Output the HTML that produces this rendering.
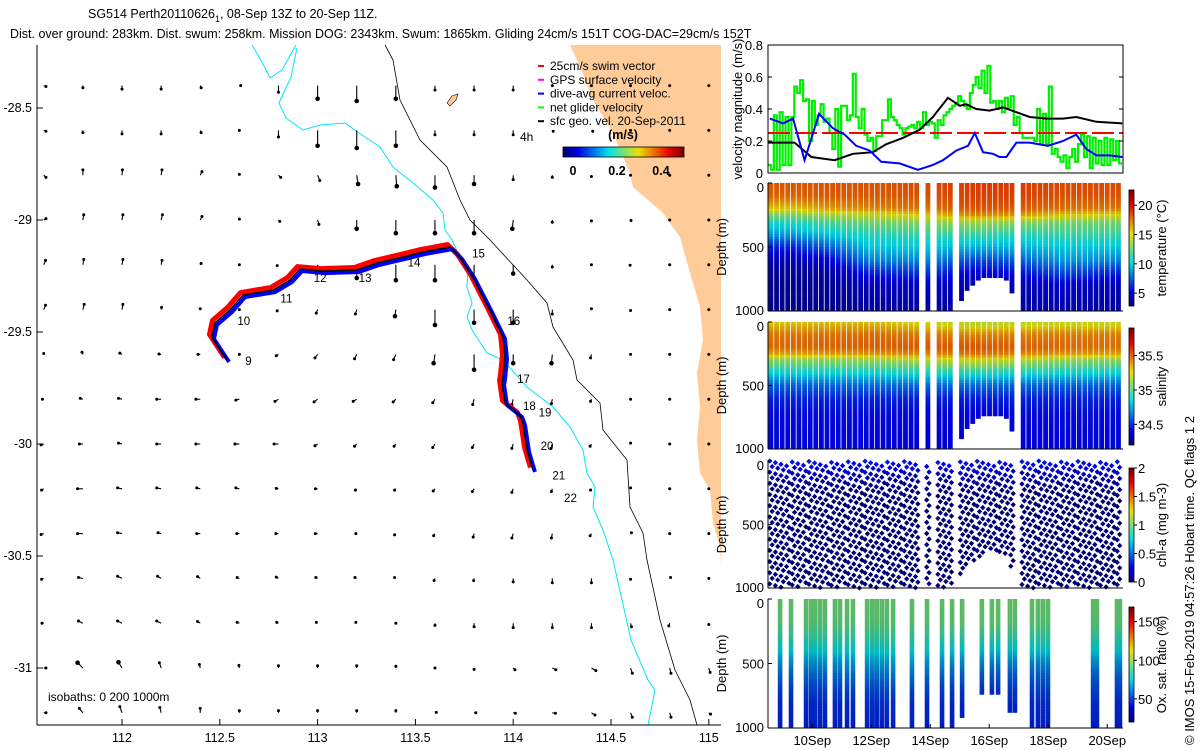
<!DOCTYPE html>
<html><head><meta charset="utf-8"><style>
html,body{margin:0;padding:0;background:#fff;}
svg{display:block;font-family:"Liberation Sans",sans-serif;}
</style></head><body>
<svg id="fig" width="1200" height="750" viewBox="0 0 1200 750" xmlns="http://www.w3.org/2000/svg">
<g font-size="12.5">
<text x="88" y="18">SG514 Perth20110626<tspan font-size="9" dy="4">1</tspan><tspan dy="-4">, 08-Sep 13Z to 20-Sep 11Z.</tspan></text>
<text x="10" y="38">Dist. over ground: 283km. Dist. swum: 258km. Mission DOG: 2343km. Swum: 1865km. Gliding 24cm/s 151T COG-DAC=29cm/s 152T</text>
</g>
<g id="map"></g>
<g id="right"></g>
</svg>
<script>
// ---------- data ----------
const trackLon=[112.537,112.460,112.475,112.552,112.619,112.772,112.859,112.910,113.028,113.201,113.304,113.437,113.539,113.677,113.728,113.794,113.881,113.948,113.958,113.948,113.943,113.958,114.035,114.050,114.071,114.101];
const trackLat=[-29.625,-29.522,-29.460,-29.402,-29.335,-29.313,-29.268,-29.219,-29.228,-29.223,-29.192,-29.165,-29.143,-29.121,-29.165,-29.254,-29.402,-29.522,-29.612,-29.701,-29.728,-29.817,-29.871,-29.906,-30.027,-30.116];
const dayLabels=['9','10','11','12','13','14','15','16','17','18','19','20','21','22'];
const dayLabelLon=[112.63,112.59,112.81,112.98,113.21,113.46,113.79,113.97,114.02,114.05,114.13,114.14,114.20,114.26];
const dayLabelLat=[-29.63,-29.45,-29.35,-29.26,-29.26,-29.19,-29.15,-29.45,-29.71,-29.83,-29.86,-30.01,-30.14,-30.24];
const gridLon=[111.6,111.8,112.0,112.2,112.4,112.6,112.8,113.0,113.2,113.4,113.6,113.8,114.0,114.2,114.4,114.6,114.8,115.0];
const gridLat=[-28.4,-28.6,-28.8,-29.0,-29.2,-29.4,-29.6,-29.8,-30.0,-30.2,-30.4,-30.6,-30.8,-31.0,-31.2];
const U=[
[.05,0,0,0,.02,.03,0,0,0,0,0,0,0,0,0,0,0,0],
[.05,0,0,0,.02,0,0,0,0,0,0,0,0,.02,.03,0,0,0],
[.05,0,.01,.02,.04,0,.05,.05,.03,.02,0,0,0,0,0,0,0,0],
[.05,.02,.02,.03,.04,0,.03,.03,0,0,0,0,-.02,0,0,.01,0,0],
[.04,.02,.02,.02,.02,0,-.03,0,0,0,0,0,0,0,0,-.01,0,0],
[.04,.03,.02,.01,0,0,-.03,-.03,-.03,-.02,0,0,0,0,0,0,0,0],
[0,-.02,-.05,-.05,-.05,0,-.05,-.06,-.05,-.05,-.03,0,0,-.02,-.02,0,0,0],
[-.03,-.06,-.08,-.1,-.1,-.08,-.08,-.08,-.08,-.06,-.05,-.03,-.03,-.02,-.02,0,0,0],
[-.06,-.08,-.08,-.1,-.1,-.1,-.1,-.06,-.05,-.04,-.05,-.04,-.03,-.03,-.03,0,0,0],
[-.05,-.12,-.1,-.1,-.08,-.08,-.05,-.05,-.03,-.03,-.04,-.04,-.03,-.02,-.02,0,0,0],
[-.06,-.12,-.1,-.07,-.08,-.06,-.06,-.05,-.02,-.03,-.03,-.02,-.03,-.02,-.03,.02,0,0],
[-.05,-.1,-.1,-.08,-.06,-.05,-.05,-.04,-.04,-.03,-.02,-.01,0,0,0,0,.02,0],
[-.04,-.1,-.1,-.1,-.06,-.05,-.04,-.03,-.02,0,0,0,0,0,0,.02,-.02,0],
[.05,-.12,-.08,-.04,-.02,-.01,0,0,0,0,0,0,.04,.08,.1,.04,.03,.03],
[.05,-.08,-.05,-.03,0,0,0,0,0,0,.03,.04,.05,.07,.08,.04,.03,.04]];
const V=[
[-.02,-.05,-.08,-.08,-.05,0,-.15,-.3,-.35,-.3,-.1,-.1,-.1,0,0,0,0,0],
[-.02,-.05,-.08,-.08,-.05,0,-.15,-.35,-.4,-.35,-.1,-.1,-.1,-.02,-.02,0,0,0],
[-.05,.12,.12,.12,.08,.02,-.05,-.12,-.2,-.25,-.28,-.2,-.1,-.05,-.03,0,0,0],
[.03,.12,.12,.12,.08,.02,-.03,-.1,-.2,-.3,-.3,-.3,-.2,-.05,-.02,-.01,0,0],
[.1,.12,.12,.1,.03,0,-.02,-.05,-.3,-.35,-.35,-.35,-.2,-.05,0,-.01,0,0],
[.1,.12,.12,.05,.02,0,-.03,-.08,-.1,-.15,-.35,-.3,-.3,-.1,.02,-.02,0,0],
[.02,.05,.03,.01,0,0,-.03,-.08,-.1,-.12,-.2,-.35,-.2,-.2,-.08,0,0,0],
[0,.02,.02,0,0,-.02,-.05,-.06,-.05,-.06,-.08,-.12,-.12,-.1,-.05,0,0,0],
[-.02,0,.02,0,0,0,0,-.04,-.05,-.05,-.08,-.08,-.1,-.1,-.05,.02,0,0],
[-.03,0,.02,.02,.02,.02,.01,0,-.03,-.03,-.05,-.06,-.08,-.06,-.03,.02,0,0],
[-.02,0,.02,.02,0,0,0,0,0,-.03,-.05,-.08,-.1,-.1,-.05,.02,0,0],
[-.02,.02,.05,.05,.04,.02,.03,.02,.02,.02,-.05,-.05,-.08,-.1,-.1,-.02,.02,0],
[0,.05,.05,.05,.04,.02,.02,.02,.02,0,-.05,-.08,-.1,-.1,-.1,-.08,-.06,-.03],
[0,.12,.13,.12,.08,.06,.05,.05,.05,.04,0,-.03,-.04,-.04,-.06,-.12,-.12,-.1],
[0,.1,.14,.12,.1,.05,.05,.05,.05,.05,.01,0,-.01,-.01,-.05,-.1,-.1,-.03]];
const xTicks=[112,112.5,113,113.5,114,114.5,115];
const yTicks=[-28.5,-29,-29.5,-30,-30.5,-31];

const blackDays=[8.5,9.40,9.97,10.76,11.38,12.06,12.51,13.08,13.64,14.09,14.60,15.0,15.22,15.56,16.01,16.47,16.92,17.37,17.94,18.5,18.95,19.63,20.51];
const blackVals=[0.19,0.19,0.10,0.08,0.12,0.13,0.18,0.22,0.27,0.35,0.47,0.42,0.43,0.40,0.39,0.41,0.38,0.35,0.34,0.34,0.35,0.32,0.31];
const blueDays=[8.56,9.01,9.35,9.74,10.23,10.70,11.10,11.49,11.95,12.34,12.96,13.58,14.09,14.43,14.88,15.28,15.51,15.79,16.13,16.35,16.58,16.92,17.37,17.99,18.5,18.95,19.29,19.63,20.08,20.51];
const blueVals=[0.34,0.31,0.34,0.08,0.37,0.28,0.24,0.17,0.14,0.07,0.06,0.02,0.05,0.08,0.14,0.17,0.25,0.13,0.12,0.10,0.10,0.19,0.19,0.17,0.20,0.24,0.15,0.11,0.11,0.10];
const greenVals=[0.05,0.02,0.36,0.02,0.38,0.05,0.35,0.05,0.35,0.54,0.5,0.58,0.45,0.46,0.2,0.45,0.3,0.36,0.43,0.32,0.34,0.25,0.15,0.4,0.04,0.42,0.42,0.33,0.36,0.62,0.35,0.28,0.4,0.24,0.2,0.22,0.14,0.23,0.23,0.33,0.33,0.46,0.35,0.33,0.3,0.28,0.24,0.28,0.29,0.3,0.28,0.32,0.28,0.38,0.3,0.32,0.31,0.22,0.33,0.3,0.36,0.38,0.4,0.42,0.44,0.48,0.45,0.42,0.4,0.5,0.55,0.6,0.53,0.64,0.5,0.67,0.44,0.45,0.4,0.45,0.38,0.47,0.41,0.48,0.3,0.35,0.25,0.22,0.22,0.22,0.22,0.2,0.4,0.18,0.37,0.18,0.54,0.12,0.15,0.1,0.07,0.11,0.03,0.1,0.15,0.07,0.18,0.24,0.1,0.23,0.03,0.22,0.06,0.2,0.05,0.22,0.05,0.21,0.08,0.2,0.06];
const swimSpeed=0.25;
const velTicks=[0,0.2,0.4,0.6,0.8];
const dateTicks=[10,12,14,16,18,20];
const dateLabels=['10Sep','12Sep','14Sep','16Sep','18Sep','20Sep'];

const profDays=[8.60,8.79,8.98,9.17,9.36,9.55,9.74,9.93,10.12,10.31,10.50,10.69,10.88,11.07,11.26,11.45,11.64,11.83,12.02,12.21,12.40,12.59,12.78,12.97,13.16,13.35,13.54,13.92,14.30,14.49,14.68,15.06,15.25,15.44,15.63,15.82,16.01,16.20,16.39,16.58,16.77,17.15,17.34,17.53,17.72,17.91,18.10,18.29,18.48,18.67,18.86,19.05,19.24,19.43,19.62,19.81,20.00,20.19,20.38];
const profMaxDepth=[1000,1000,1000,1000,1000,1000,1000,1000,1000,1000,1000,1000,1000,1000,1000,1000,1000,1000,1000,1000,1000,1000,1000,1000,1000,1000,1000,1000,1000,1000,1000,910,830,790,760,740,730,730,740,760,860,1000,1000,1000,1000,1000,1000,1000,1000,1000,1000,1000,1000,1000,1000,1000,1000,1000,1000];
const depthLevels=[0,100,200,250,300,400,500,600,700,800,1000];
const tempTimes=[9.3,10.5,12,14,15.5,17,18.5,20.3];
const tempGrid=[
[18.2,17.8,15.5,13,11,9,6,4.5,3.8,3.6,3.5],
[18.2,18,16.5,14,12,10,7.5,5,4,3.7,3.5],
[18.2,18,17,14.5,13,11,10,8.5,6,4.5,3.8],
[18.4,18.2,17.5,15.5,13.5,11.5,10,8.5,6.5,5,4],
[18.8,18.6,18.2,17,14,11.5,9.5,7,5,4.3,4],
[18.8,18.6,18,16.5,13.5,11,9.5,7.5,5.5,4.5,4],
[18.4,18.2,17.5,15.5,13,11.5,10,9,7,5,4.2],
[18.4,18.2,17.3,15,13,11.5,10,8.5,6,4.5,4]];
const salTimes=[9,12,15.5,18.5,20.3];
const salGrid=[
[35.28,35.45,35.48,35.35,35.1,34.85,34.6,34.48,34.44,34.42,34.42],
[35.3,35.47,35.5,35.38,35.12,34.86,34.62,34.48,34.44,34.42,34.42],
[35.15,35.42,35.52,35.45,35.25,34.9,34.62,34.47,34.42,34.4,34.4],
[35.2,35.44,35.48,35.38,35.12,34.86,34.6,34.48,34.44,34.42,34.42],
[35.2,35.44,35.46,35.35,35.1,34.85,34.6,34.48,34.44,34.42,34.42]];
const chlTimes=[9,20.5];
const chlGrid=[[0.3,0.15,0.04,0,0,0,0,0,0,0,0],[0.3,0.15,0.04,0,0,0,0,0,0,0,0]];
const oxDays=[8.91,9.28,9.79,9.96,10.09,10.26,10.43,10.77,10.94,11.18,11.38,11.86,12.03,12.19,12.36,12.53,12.74,13.38,13.89,14.40,14.74,15.08,15.75,16.09,16.30,16.70,16.87,17.45,17.65,17.82,17.99,19.52,19.65,20.33,20.43];
const oxMaxDepth=[1000,1000,1000,1000,1000,1000,1000,1000,1000,1000,1000,1000,1000,1000,1000,1000,1000,1000,1000,1000,1000,910,740,730,730,870,870,1000,1000,1000,1000,1000,1000,1000,1000];
const oxTimes=[9,13,16,18,20.4];
const oxGrid=[
[94,93,91,88,84,76,64,56,50,46,44],
[94,93,91,88,85,78,68,60,53,48,45],
[95,94,92,88,84,74,62,54,48,45,43],
[94,93,91,88,84,76,64,56,51,47,44],
[94,93,91,88,84,76,64,56,51,47,44]];
const tempTicks=[5,10,15,20], salTicks=[34.5,35,35.5], chlTicks=[0,0.5,1,1.5,2], oxTicks=[50,100,150];
const depthTicks=[0,500,1000];

// ---------- helpers ----------
const NS='http://www.w3.org/2000/svg';
function mk(tag,attrs,parent){const e=document.createElementNS(NS,tag);for(const k in attrs)e.setAttribute(k,attrs[k]);if(parent)parent.appendChild(e);return e;}
function cl(v){return Math.max(0,Math.min(1,v));}
function jetRGB(t){t=cl(t);return [cl(1.5-Math.abs(4*t-3)),cl(1.5-Math.abs(4*t-2)),cl(1.5-Math.abs(4*t-1))];}
function jet(t,k){k=k||1;const c=jetRGB(t);return 'rgb('+Math.round(c[0]*235*k)+','+Math.round(c[1]*225*k)+','+Math.round(c[2]*235*k)+')';}
function interp(xs,ys,x){if(x<=xs[0])return ys[0];for(let i=1;i<xs.length;i++){if(x<=xs[i]){const f=(x-xs[i-1])/(xs[i]-xs[i-1]);return ys[i-1]+f*(ys[i]-ys[i-1]);}}return ys[ys.length-1];}
function gridVal(times,grid,t,d){const col=grid.map(r=>interp(depthLevels,r,d));return interp(times,col,t);}

// ---------- map ----------
const map=document.getElementById('map');
const MX0=37,MX1=721,MY0=45,MY1=725;
const mx=lon=>122+(lon-112)*195.6, my=lat=>108+(-28.5-lat)*224;
const land=mk('polygon',{points:'570,45 580,67 593,100 613,133 630,173 633,187 663,213 680,237 690,273 700,307 703,340 697,373 700,407 697,440 700,473 710,490 713,523 720,547 721,565 721,45',fill:'#ffcc99'},map);


const isl=mk('polygon',{points:'447,103 452,96 458,94 456,100 450,106',fill:'#ffcc99',stroke:'#000','stroke-width':0.6},map);


const cy1=mk('polyline',{points:'252,45 262,62 270,78 282,70 292,52 296,45',fill:'none',stroke:'#00e5ff','stroke-width':1},map);


const cy2=mk('polyline',{points:'297,48 291,77 279,103 286,118 303,130 320,125 345,123 359,133 380,147 393,167 413,183 433,200 443,213 445,230 452,240 458,253 468,267 467,287 472,303 467,317 472,330 487,353 503,360 527,387 553,407 570,427 583,450 587,473 595,487 593,507 603,530 613,560 622,600 631,640 648,680 655,690 648,725',fill:'none',stroke:'#00e5ff','stroke-width':1},map);


const bk=mk('polyline',{points:'385,45 393,60 400,100 420,140 447,167 460,200 470,220 490,240 527,280 547,303 553,327 573,360 577,380 600,403 603,430 627,460 630,507 643,533 647,560 660,620 675,670 690,700 697,725',fill:'none',stroke:'#000','stroke-width':0.8},map);


// vectors
const vs=44;
for(let r=0;r<gridLat.length;r++)for(let c=0;c<gridLon.length;c++){
  const u=U[r][c],v=V[r][c];const x=mx(gridLon[c]),y=my(gridLat[r]);
  if(x>MX1-2)continue;
  const x2=x+u*vs,y2=y-v*vs;
  const g=mk('g',{},map);
  
  
  mk('line',{x1:x,y1:y,x2:x2,y2:y2,stroke:'#000','stroke-width':1.1},g);
  const m=Math.hypot(u,v);
  mk('circle',{cx:x2,cy:y2,r:m>0.15?2.3:1.5,fill:'#000'},g);
}
// track
const tp=trackLon.map((l,i)=>mx(l)+','+my(trackLat[i])).join(' ');
const tpR=trackLon.map((l,i)=>(mx(l)-2.5)+','+(my(trackLat[i])-2.5)).join(' ');
const tpB=trackLon.map((l,i)=>(mx(l)+2)+','+(my(trackLat[i])+2)).join(' ');
const tr=mk('polyline',{points:tpR,fill:'none',stroke:'#ff0000','stroke-width':5,'stroke-linejoin':'round'},map);


const tb=mk('polyline',{points:tpB,fill:'none',stroke:'#0000ff','stroke-width':4,'stroke-linejoin':'round'},map);


const tk=mk('polyline',{points:tp,fill:'none',stroke:'#000','stroke-width':1.5},map);


dayLabels.forEach((s,i)=>{const t=mk('text',{x:mx(dayLabelLon[i]),y:my(dayLabelLat[i])+4,'font-size':11.5},map);t.textContent=s;

});
// axes
const ax=mk('g',{fill:'none',stroke:'#000','stroke-width':1},map);


mk('line',{x1:MX0,y1:MY0,x2:MX0,y2:MY1},ax);mk('line',{x1:MX0,y1:MY1,x2:MX1,y2:MY1},ax);
xTicks.forEach(t=>{const x=mx(t);mk('line',{x1:x,y1:MY1,x2:x,y2:MY1-6},ax);
const l=mk('text',{x:x,y:742,'font-size':12.5,'text-anchor':'middle',fill:'#000',stroke:'none'},map);l.textContent=String(t);

});
yTicks.forEach(t=>{const y=my(t);mk('line',{x1:MX0,y1:y,x2:MX0+6,y2:y},ax);
const l=mk('text',{x:32,y:y+4,'font-size':12.5,'text-anchor':'end',fill:'#000'},map);l.textContent=String(t);

});
const iso=mk('text',{x:48,y:701,'font-size':12},map);iso.textContent='isobaths: 0   200   1000m';iso.setAttribute('xml:space','preserve');


const h4=mk('text',{x:520,y:141,'font-size':12},map);h4.textContent='4h';


// legend
const leg=mk('g',{},map);


[['25cm/s swim vector','#ff0000'],['GPS surface velocity','#ff00ff'],['dive-avg current veloc.','#0000ff'],['net glider velocity','#00ff00'],['sfc geo. vel. 20-Sep-2011','#000']].forEach((e,i)=>{
 const y=66+i*13.8;const g=mk('g',{},leg);
 
 
 mk('line',{x1:538,y1:y,x2:544,y2:y,stroke:e[1],'stroke-width':2},g);
 const t=mk('text',{x:550,y:y+4,'font-size':12},g);t.textContent=e[0];});
const ms=mk('text',{x:623,y:139,'font-size':12.5,'font-weight':'bold','text-anchor':'middle'},map);ms.textContent='(m/s)';


const defs=mk('defs',{},document.getElementById('fig'));
function grad(id,vert){const g=mk('linearGradient',{id:id,x1:0,y1:vert?1:0,x2:vert?0:1,y2:0},defs);for(let i=0;i<=16;i++)mk('stop',{offset:i/16,'stop-color':jet(i/16)},g);}
grad('jh',false);grad('jv',true);
const cbm=mk('rect',{x:563,y:147,width:121,height:10,fill:'url(#jh)',stroke:'#000','stroke-width':0.8},map);


[['0',573],['0.2',617],['0.4',661]].forEach(a=>{const t=mk('text',{x:a[1],y:175,'font-size':12.5,'font-weight':'bold','text-anchor':'middle'},map);t.textContent=a[0];

});

// ---------- right panels ----------
const R=document.getElementById('right');
const PX0=768,PX1=1123;
const tx=d=>PX0+(d-8.5)*29.5;
const VY0=45,VY1=173;const vy=v=>VY1-v*160;
const vp=mk('g',{},R);


let gpath='';const n=greenVals.length;const dt=(20.5-8.5)/n;
greenVals.forEach((v,i)=>{const x0=tx(8.5+i*dt),x1=tx(8.5+(i+1)*dt);gpath+=(i?'L':'M')+x0+','+vy(v)+'L'+x1+','+vy(v);});
const gl=mk('path',{d:gpath,fill:'none',stroke:'#00ee00','stroke-width':2.2},vp);


const rl=mk('line',{x1:PX0,y1:vy(swimSpeed),x2:PX1,y2:vy(swimSpeed),stroke:'#ff0000','stroke-width':2,'stroke-dasharray':'22 5'},vp);


const blk=mk('polyline',{points:blackDays.map((d,i)=>tx(d)+','+vy(blackVals[i])).join(' '),fill:'none',stroke:'#000','stroke-width':2},vp);


const blu=mk('polyline',{points:blueDays.map((d,i)=>tx(d)+','+vy(blueVals[i])).join(' '),fill:'none',stroke:'#0000ff','stroke-width':2},vp);


mk('rect',{x:PX0,y:VY0,width:PX1-PX0,height:VY1-VY0,fill:'none',stroke:'#000','stroke-width':1},vp);
velTicks.forEach(t=>{const y=vy(t);mk('line',{x1:PX0,y1:y,x2:PX0+4,y2:y,stroke:'#000'},vp);mk('line',{x1:PX1,y1:y,x2:PX1-4,y2:y,stroke:'#000'},vp);
 const l=mk('text',{x:763,y:y+5,'font-size':13,'text-anchor':'end'},vp);l.textContent=String(t);
 
 });
const vl=mk('text',{x:0,y:0,'font-size':13,'text-anchor':'middle',transform:'translate(742,109) rotate(-90)'},vp);vl.textContent='velocity magnitude (m/s)';



function panel(name,top,bot,days,maxD,valFn,vmin,vmax,ticks,cbTop,cbBot,label,mode,shade){
 const g=mk('g',{},R);
 
 
 const dy=d=>top+d/1000*(bot-top);
 days.forEach((d,i)=>{const x=tx(d);
  if(mode==='dots'){
   const ph=(i*13)%44;
   for(let k=0;k*44+ph<=maxD[i];k++){const dep=k*44+ph;const y=dy(dep);
     const c=jet((valFn(d,dep)-vmin)/(vmax-vmin));
     const xo=x+((k%2)?1.2:-1.2);
     mk('rect',{x:xo-1.9,y:y-1.9,width:3.8,height:3.8,fill:c,transform:'rotate(45 '+xo+' '+y+')'},g);}
  } else {
   const w=mode==='ox'?4.6:4.8;
   for(let dep=0;dep<maxD[i];dep+=20){const c=jet((valFn(d,dep+10)-vmin)/(vmax-vmin),shade);
     mk('rect',{x:x-w/2,y:dy(dep),width:w,height:dy(dep+20)-dy(dep)+0.3,fill:c},g);}
  }});
 mk('line',{x1:PX0,y1:top,x2:PX0,y2:bot,stroke:'#000'},g);
 mk('line',{x1:PX0,y1:bot,x2:PX1,y2:bot,stroke:'#000'},g);
 depthTicks.forEach(t=>{const y=dy(t);mk('line',{x1:PX0,y1:y,x2:PX0+4,y2:y,stroke:'#000'},g);
  const l=mk('text',{x:764,y:y+(t===0?9:t===1000?4:5),'font-size':13,'text-anchor':'end'},g);l.textContent=String(t);
  
  });
 const dl=mk('text',{x:0,y:0,'font-size':13,'text-anchor':'middle',transform:'translate(726,'+((top+bot)/2)+') rotate(-90)'},g);dl.textContent='Depth (m)';
 
 
 const cb=mk('rect',{x:1129,y:cbTop,width:5,height:cbBot-cbTop,fill:'url(#jv)',stroke:'#000','stroke-width':0.8},g);
 
 
 ticks.forEach(t=>{const y=cbBot-(t-vmin)/(vmax-vmin)*(cbBot-cbTop);mk('line',{x1:1134,y1:y,x2:1137,y2:y,stroke:'#000'},g);
  const l=mk('text',{x:1138,y:y+5,'font-size':13},g);l.textContent=String(t);
  
  });
 const lb=mk('text',{x:0,y:0,'font-size':13,'text-anchor':'middle',transform:'translate(1166,'+((cbTop+cbBot)/2)+') rotate(-90)'},g);lb.textContent=label;
 
 
 return g;
}
panel('temperature-panel',183,311,profDays,profMaxDepth,(t,d)=>gridVal(tempTimes,tempGrid,t,d),2.8,22.6,tempTicks,190,306,'temperature (°C)','cols',0.92);
panel('salinity-panel',322,449,profDays,profMaxDepth,(t,d)=>gridVal(salTimes,salGrid,t,d),34.2,35.9,salTicks,328,445,'salinity','cols',0.92);
panel('chlorophyll-panel',461,588,profDays,profMaxDepth,(t,d)=>gridVal(chlTimes,chlGrid,t,d),0,2,chlTicks,468,582,'chl-a (mg m-3)','dots');
const oxp=panel('oxygen-panel',599,728,oxDays,oxMaxDepth,(t,d)=>gridVal(oxTimes,oxGrid,t,d),20,169,oxTicks,607,722,'Ox. sat. ratio (%)','ox',0.82);
dateTicks.forEach((d,i)=>{const x=tx(d);mk('line',{x1:x,y1:728,x2:x,y2:724,stroke:'#000'},oxp);
 const l=mk('text',{x:x,y:745,'font-size':13,'text-anchor':'middle'},oxp);l.textContent=dateLabels[i];
 
 });
const cp=mk('text',{x:0,y:0,'font-size':13,transform:'translate(1194,745) rotate(-90)'},R);cp.textContent='© IMOS 15-Feb-2019 04:57:26 Hobart time. QC flags 1  2';cp.setAttribute('xml:space','preserve');


</script>
</body></html>
